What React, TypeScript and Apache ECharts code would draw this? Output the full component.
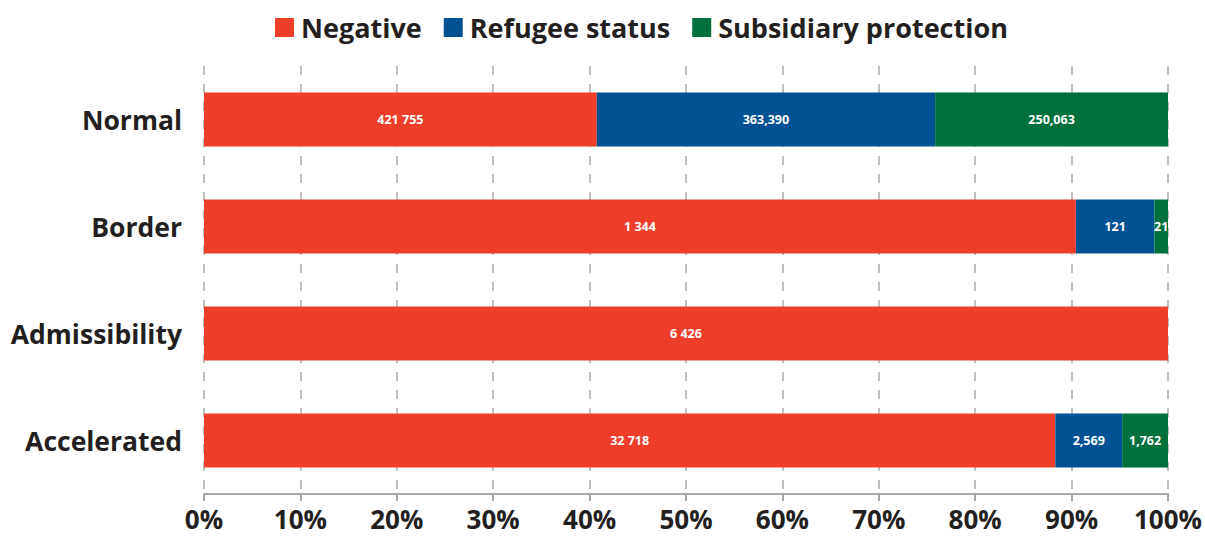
import React, { useEffect, useRef } from "react";
import * as echarts from "echarts";

const categories = ["Normal", "Border", "Admissibility", "Accelerated"];
const negative = [421755, 1344, 6426, 32718];
const refugee = [363390, 121, 0, 2569];
const subsidiary = [250063, 21, 0, 1762];
const xTicks = ["0%", "10%", "20%", "30%", "40%", "50%", "60%", "70%", "80%", "90%", "100%"];

const totals = categories.map((_, i) => negative[i] + refugee[i] + subsidiary[i]);
const pct = (arr: number[]) => arr.map((v, i) => ({ value: (v / totals[i]) * 100, raw: v }));

const fmtSpace = (n: number) => String(n).replace(/\B(?=(\d{3})+(?!\d))/g, " ");
const fmtComma = (n: number) => String(n).replace(/\B(?=(\d{3})+(?!\d))/g, ",");

const FONT = "'Open Sans', 'Noto Sans', sans-serif";

export default function App() {
  const ref = useRef<HTMLDivElement>(null);
  useEffect(() => {
    const chart = echarts.init(ref.current!, null, { renderer: "svg" });
    const mk = (name: string, arr: number[], color: string, fmt: (n: number) => string) => ({
      name,
      type: "bar",
      stack: "total",
      barWidth: 54,
      data: pct(arr),
      itemStyle: { color },
      label: {
        show: true,
        position: "inside",
        color: "#ffffff",
        fontFamily: FONT,
        fontWeight: "bold",
        fontSize: 12.5,
        formatter: (p: any) => (p.data.raw ? fmt(p.data.raw) : ""),
      },
    });
    chart.setOption({
      animation: false,
      legend: {
        top: 9,
        left: 270,
        itemWidth: 19,
        itemHeight: 19,
        itemGap: 22,
        icon: "rect",
        textStyle: { fontFamily: FONT, fontWeight: "bold", fontSize: 27, color: "#231f20", padding: [0, 0, 0, 2] },
      },
      grid: { left: 204, right: 37, top: 66, bottom: 48, containLabel: false },
      xAxis: {
        type: "value",
        min: 0,
        max: 100,
        interval: 10,
        axisLine: { show: true, lineStyle: { color: "#a6a6a6", width: 2 } },
        axisTick: { show: true, length: 7, lineStyle: { color: "#a6a6a6", width: 2 } },
        splitLine: { show: true, lineStyle: { color: "#bfbfbf", type: [9, 9], width: 2 } },
        axisLabel: {
          margin: 12,
          fontFamily: FONT,
          fontWeight: "bold",
          fontSize: 26,
          color: "#231f20",
          formatter: (v: number) => xTicks[Math.round(v / 10)],
        },
      },
      yAxis: {
        type: "category",
        data: categories,
        inverse: true,
        axisLine: { show: false },
        axisTick: { show: false },
        axisLabel: { margin: 22, fontFamily: FONT, fontWeight: "bold", fontSize: 26.5, color: "#231f20" },
      },
      series: [
        mk("Negative", negative, "#ee3e2a", fmtSpace),
        mk("Refugee status", refugee, "#005293", fmtComma),
        mk("Subsidiary protection", subsidiary, "#00703c", fmtComma),
      ],
    });
    return () => chart.dispose();
  }, []);
  return <div ref={ref} style={{ width: 1205, height: 542, position: "absolute", left: 0, top: 0 }} />;
}
